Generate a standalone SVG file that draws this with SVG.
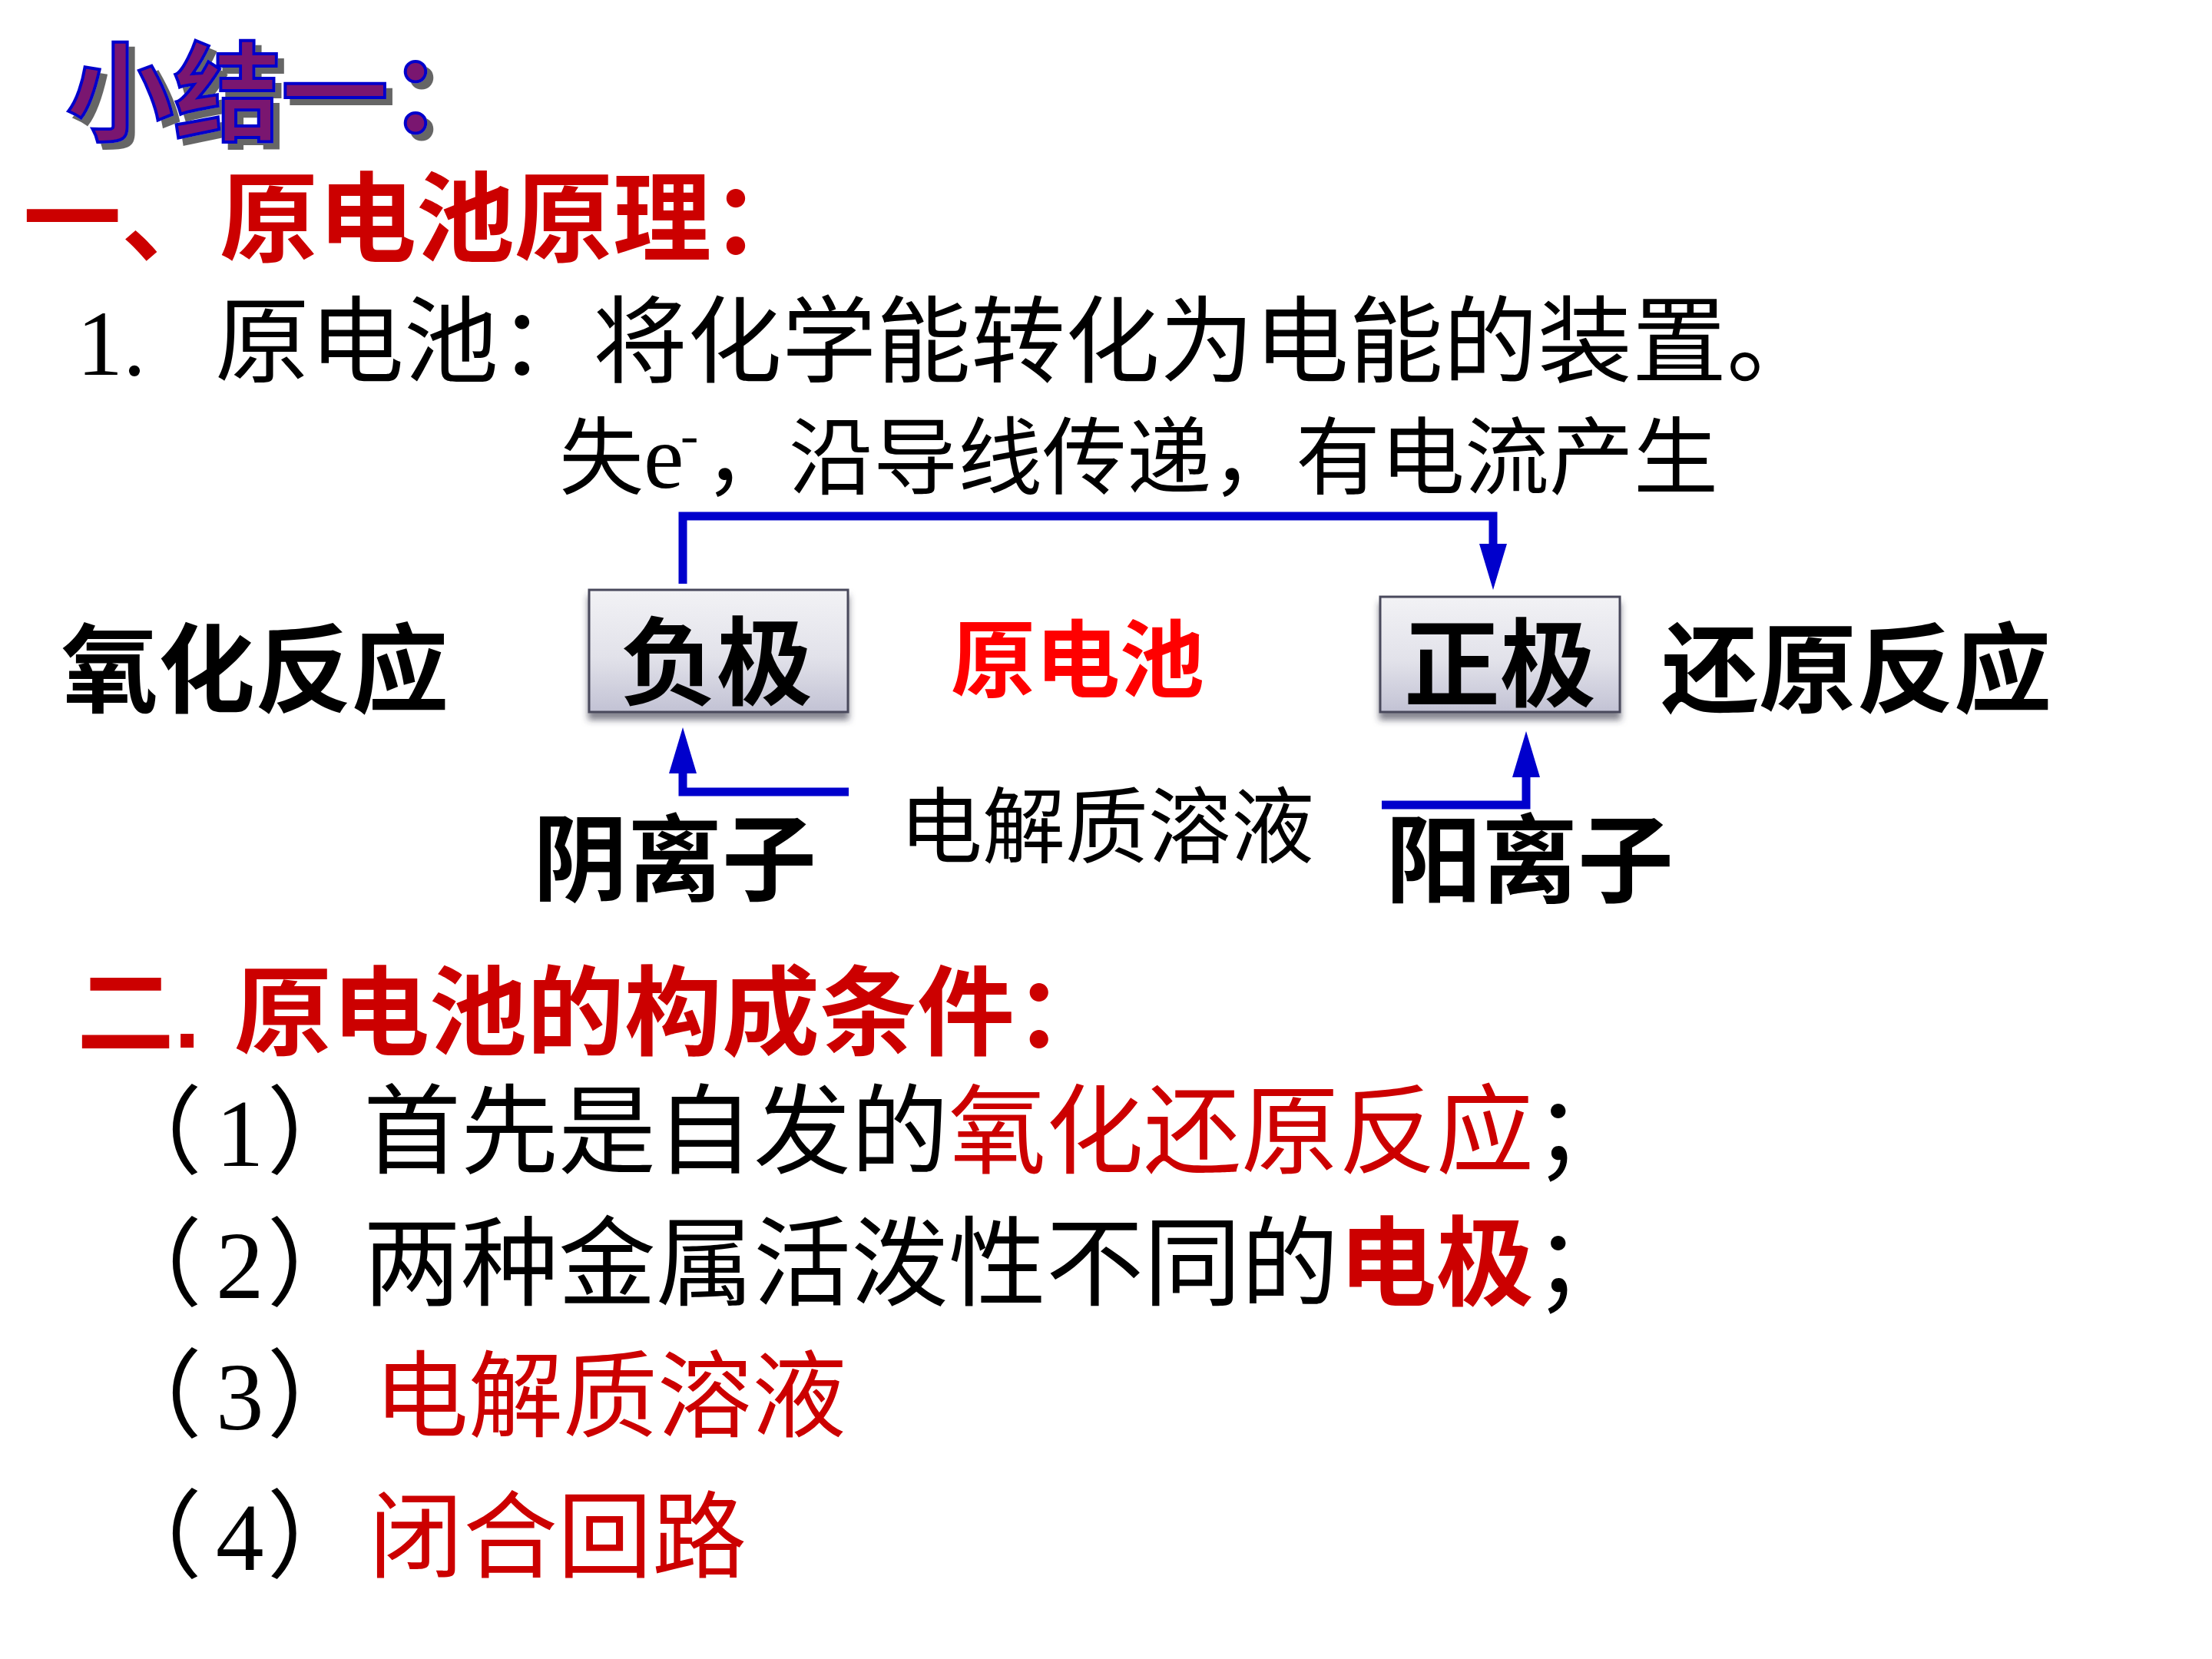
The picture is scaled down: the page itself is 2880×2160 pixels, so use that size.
<svg xmlns="http://www.w3.org/2000/svg" width="2880" height="2160" viewBox="0 0 2880 2160">
<defs>
<style>
text{font-family:"Noto Sans CJK SC","Liberation Serif",sans-serif;}
.lat{font-family:"Liberation Serif","Noto Sans CJK SC",serif;}
.blk{fill:#000;}
.red{fill:#cc0000;}
.b{font-weight:bold;}
.wire{fill:none;stroke:#0000cc;stroke-width:11;stroke-linejoin:miter;marker-end:url(#ah);}
.box{fill:url(#boxg);stroke:#4a4a5c;stroke-width:3;filter:url(#sh);}
</style>
<linearGradient id="boxg" x1="0" y1="0" x2="0" y2="1">
<stop offset="0" stop-color="#f2f2f5"/>
<stop offset="0.55" stop-color="#e2e2ea"/>
<stop offset="1" stop-color="#c2c2d4"/>
</linearGradient>
<filter id="sh" x="-10%" y="-10%" width="120%" height="140%">
<feDropShadow dx="0" dy="9" stdDeviation="4" flood-color="#333344" flood-opacity="0.6"/>
</filter>
<filter id="tsh" x="-5%" y="-10%" width="115%" height="130%">
<feOffset in="SourceAlpha" dx="8" dy="8" result="o"/>
<feFlood flood-color="#666666"/>
<feComposite in2="o" operator="in" result="s"/>
<feMerge><feMergeNode in="s"/><feMergeNode in="SourceGraphic"/></feMerge>
</filter>
<marker id="ah" markerUnits="userSpaceOnUse" markerWidth="60" markerHeight="36" refX="0" refY="18" orient="auto" viewBox="0 0 60 36" overflow="visible">
<path d="M0,0 L60,18 L0,36 Z" fill="#0000cc"/>
</marker>
</defs>
<rect width="2880" height="2160" fill="#ffffff"/>

<g id="title">
<text x="86" y="172" font-size="140" font-weight="bold" fill="#7a1670" stroke="#0000cc" stroke-width="4" filter="url(#tsh)">小结一：</text>
</g>

<g id="heading1">
<text x="30" y="331" font-size="128" class="red b">一、原电池原理：</text>
</g>

<g id="line1">
<text y="488" class="blk"><tspan x="100" class="lat" font-size="120">1.</tspan><tspan x="280" font-size="123">原电池：将化学能转化为电能的装置。</tspan></text>
</g>

<g id="wire-label">
<text y="635" class="blk" font-size="110"><tspan x="728">失</tspan><tspan x="838" class="lat" font-size="118">e</tspan><tspan x="886" y="590" class="lat" font-size="70">-</tspan><tspan x="917" y="635">，沿导线传递，有电流产生</tspan></text>
</g>

<g id="connectors">
<path class="wire" d="M889,760 L889,672 L1944,672 L1944,708"/>
<path class="wire" d="M1105,1031 L889,1031 L889,1007"/>
<path class="wire" d="M1799,1048 L1987,1048 L1987,1012"/>
</g>

<g id="node-neg">
<rect class="box" x="767" y="768" width="337" height="159"/>
<text x="808" y="908" font-size="125" class="blk b">负极</text>
</g>

<g id="node-pos">
<rect class="box" x="1797" y="777" width="312" height="150"/>
<text x="1828" y="910" font-size="125" class="blk b">正极</text>
</g>

<g id="label-cell">
<text x="1238" y="899" font-size="110" fill="#ff0000" font-weight="bold">原电池</text>
</g>

<g id="label-ox">
<text x="80" y="918" font-size="126" class="blk b">氧化反应</text>
</g>

<g id="label-red">
<text x="2163" y="918" font-size="127" class="blk b">还原反应</text>
</g>

<g id="label-electrolyte">
<text x="1171" y="1115" font-size="108" class="blk">电解质溶液</text>
</g>

<g id="label-anion">
<text x="694" y="1163" font-size="123" class="blk b">阴离子</text>
</g>

<g id="label-cation">
<text x="1804" y="1165" font-size="125" class="blk b">阳离子</text>
</g>

<g id="heading2">
<text y="1364" font-size="127" class="red b"><tspan x="100">二</tspan><tspan font-family="Liberation Sans" font-size="120">.</tspan><tspan x="305">原电池的构成条件：</tspan></text>
</g>

<g id="cond1">
<text y="1518" font-size="125" class="blk"><tspan x="138">（</tspan><tspan class="lat" dx="18">1</tspan><tspan dx="4">）</tspan><tspan x="473" font-size="127">首先是自发的</tspan><tspan class="red" font-size="127">氧化还原反应</tspan><tspan font-size="127">；</tspan></text>
</g>

<g id="cond2">
<text y="1690" font-size="125" class="blk"><tspan x="138">（</tspan><tspan class="lat" dx="18">2</tspan><tspan dx="4">）</tspan><tspan x="473" font-size="127">两种金属活泼性不同的</tspan><tspan class="red b" font-size="127">电极</tspan><tspan font-size="127">；</tspan></text>
</g>

<g id="cond3">
<text y="1861" font-size="125" class="blk"><tspan x="138">（</tspan><tspan class="lat" dx="18">3</tspan><tspan dx="4">）</tspan><tspan x="487" class="red" font-size="123">电解质溶液</tspan></text>
</g>

<g id="cond4">
<text y="2044" font-size="125" class="blk"><tspan x="138">（</tspan><tspan class="lat" dx="18">4</tspan><tspan dx="4">）</tspan><tspan x="480" class="red" font-size="123">闭合回路</tspan></text>
</g>
</svg>
